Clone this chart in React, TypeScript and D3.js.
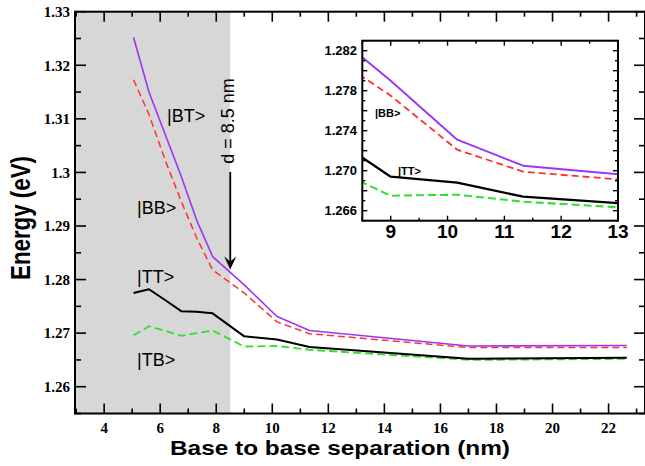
import React from "react";
import * as d3 from "d3";

// Sampled base-to-base separations (nm)
const separation = [5.05, 5.6, 6.2, 6.75, 7.3, 7.87, 9.0, 10.17, 11.33, 17.0, 22.65];

// Exciton state energies (eV) at each separation
const energyBT = [1.3252, 1.315, 1.3068, 1.2993, 1.2911, 1.2843, 1.279, 1.2731, 1.2705, 1.2676, 1.2677];
const energyBB = [1.3173, 1.3108, 1.302, 1.2946, 1.2878, 1.2818, 1.2775, 1.2721, 1.2699, 1.2673, 1.2673];
const energyTT = [1.2775, 1.2782, 1.2761, 1.2741, 1.274, 1.2737, 1.2694, 1.2688, 1.2674, 1.2652, 1.2654];
const energyTB = [1.2696, 1.2713, 1.2704, 1.2695, 1.27, 1.2705, 1.2675, 1.2676, 1.2669, 1.265, 1.2652];

const stateNames = ["|BT>", "|BB>", "|TT>", "|TB>"];

const xMajorTicks = [4, 6, 8, 10, 12, 14, 16, 18, 20, 22];
const xMinorTicks = [3, 5, 7, 9, 11, 13, 15, 17, 19, 21, 23];
const yMajorTicks = [1.26, 1.27, 1.28, 1.29, 1.3, 1.31, 1.32, 1.33];
const yMinorTicks = [1.255, 1.265, 1.275, 1.285, 1.295, 1.305, 1.315, 1.325];

const insetXMajor = [9, 10, 11, 12, 13];
const insetXMinor = [8.5, 9.5, 10.5, 11.5, 12.5];
const insetYLabels = [1.266, 1.27, 1.274, 1.278, 1.282];
const insetYTicks = d3.range(1265, 1284).map((v) => v / 1000);

const cutoff = 8.5;

const W = 645;
const H = 466;

const x = d3.scaleLinear().domain([2.96, 23.3]).range([75, 645]);
const y = d3.scaleLinear().domain([1.255, 1.33]).range([413.5, 11.7]);

const ix = d3.scaleLinear().domain([8.5, 13]).range([362.3, 618]);
const iy = d3.scaleLinear().domain([1.265, 1.283]).range([220.7, 40.7]);

type Series = { values: number[]; color: string; width: number; dash?: string };

const series: Series[] = [
  { values: energyTB, color: "#2fe02f", width: 1.8, dash: "8,4" },
  { values: energyTT, color: "#000000", width: 2 },
  { values: energyBB, color: "#ff3030", width: 1.5, dash: "7,4" },
  { values: energyBT, color: "#9b35f5", width: 1.6 },
];

const sans = "'Liberation Sans', Arial, sans-serif";
const serif = "'Liberation Serif', 'Times New Roman', serif";

export default function App() {
  const mainLine = d3
    .line<number>()
    .x((_, i) => x(separation[i]))
    .y((d) => y(d));
  const insetLine = d3
    .line<number>()
    .x((_, i) => ix(separation[i]))
    .y((d) => iy(d));

  const x0 = x.range()[0];
  const x1 = x.range()[1];
  const y0 = y.range()[0];
  const y1 = y.range()[1];

  const arrowTip = y(1.2817) - 1;

  return (
    <svg
      width={W}
      height={H}
      style={{ position: "absolute", left: 0, top: 0, background: "#fff" }}
      fontFamily={sans}
    >
      <defs>
        <clipPath id="main-clip">
          <rect x={x0} y={y1} width={x1 - x0} height={y0 - y1} />
        </clipPath>
        <clipPath id="inset-clip">
          <rect x={ix.range()[0]} y={iy.range()[1]} width={ix.range()[1] - ix.range()[0]} height={iy.range()[0] - iy.range()[1]} />
        </clipPath>
      </defs>

      {/* short-separation region */}
      <rect x={x0} y={y1} width={x(cutoff) - x0} height={y0 - y1} fill="#d7d7d7" />

      <g clipPath="url(#main-clip)">
        {series.map((s, i) => (
          <path
            key={i}
            d={mainLine(s.values) || ""}
            fill="none"
            stroke={s.color}
            strokeWidth={s.width}
            strokeDasharray={s.dash}
            strokeLinejoin="round"
          />
        ))}
      </g>

      {/* main ticks */}
      <g stroke="#000" strokeWidth={1.6}>
        {xMajorTicks.map((t) => (
          <g key={"xm" + t}>
            <line x1={x(t)} x2={x(t)} y1={y0} y2={y0 - 10} />
            <line x1={x(t)} x2={x(t)} y1={y1} y2={y1 + 10} />
          </g>
        ))}
        {xMinorTicks.map((t) => (
          <g key={"xn" + t}>
            <line x1={x(t)} x2={x(t)} y1={y0} y2={y0 - 5} />
            <line x1={x(t)} x2={x(t)} y1={y1} y2={y1 + 5} />
          </g>
        ))}
        {yMajorTicks.map((t) => (
          <g key={"ym" + t}>
            <line x1={x0} x2={x0 + 11} y1={y(t)} y2={y(t)} />
            <line x1={x1} x2={x1 - 11} y1={y(t)} y2={y(t)} />
          </g>
        ))}
        {yMinorTicks.map((t) => (
          <g key={"yn" + t}>
            <line x1={x0} x2={x0 + 6} y1={y(t)} y2={y(t)} />
            <line x1={x1} x2={x1 - 6} y1={y(t)} y2={y(t)} />
          </g>
        ))}
      </g>
      <rect x={x0} y={y1} width={x1 - x0} height={y0 - y1} fill="none" stroke="#000" strokeWidth={2} />

      {/* main tick labels */}
      <g fontFamily={serif} fontWeight="bold" fontSize={15} fill="#000">
        {xMajorTicks.map((t) => (
          <text key={"xl" + t} x={x(t)} y={433} textAnchor="middle">
            {t}
          </text>
        ))}
        {yMajorTicks.map((t) => (
          <text key={"yl" + t} x={70} y={y(t)} dy="0.35em" textAnchor="end">
            {String(+t.toFixed(2))}
          </text>
        ))}
      </g>

      {/* axis titles */}
      <text x={340} y={455} textAnchor="middle" fontSize={21} fontWeight="bold" textLength={340} lengthAdjust="spacingAndGlyphs">
        Base to base separation (nm)
      </text>
      <text
        transform="translate(30,218) rotate(-90)"
        textAnchor="middle"
        fontSize={27}
        fontWeight="bold"
        textLength={124}
        lengthAdjust="spacingAndGlyphs"
      >
        Energy (eV)
      </text>

      {/* state labels */}
      <g fontSize={18} fill="#000">
        <text x={167} y={122}>{stateNames[0]}</text>
        <text x={137} y={214}>{stateNames[1]}</text>
        <text x={137} y={283}>{stateNames[2]}</text>
        <text x={137} y={366}>{stateNames[3]}</text>
      </g>

      {/* cutoff marker */}
      <line x1={x(cutoff)} x2={x(cutoff)} y1={172} y2={arrowTip - 8} stroke="#000" strokeWidth={1.8} />
      <path
        d={`M${x(cutoff)},${arrowTip} L${x(cutoff) - 6},${arrowTip - 13} L${x(cutoff)},${arrowTip - 8} L${x(cutoff) + 6},${arrowTip - 13} Z`}
        fill="#000"
      />
      <text transform={`translate(${x(cutoff) + 4},121) rotate(-90)`} textAnchor="middle" fontSize={18}>
        d = 8.5 nm
      </text>

      {/* inset: zoom on 8.5-13 nm */}
      <rect x={ix.range()[0]} y={iy.range()[1]} width={ix.range()[1] - ix.range()[0]} height={iy.range()[0] - iy.range()[1]} fill="#fff" />
      <g clipPath="url(#inset-clip)">
        {series.map((s, i) => (
          <path
            key={i}
            d={insetLine(s.values) || ""}
            fill="none"
            stroke={s.color}
            strokeWidth={s.width + 0.3}
            strokeDasharray={s.dash}
            strokeLinejoin="round"
          />
        ))}
      </g>
      <g stroke="#000" strokeWidth={1.4}>
        {insetXMajor.map((t) => (
          <g key={"ixm" + t}>
            <line x1={ix(t)} x2={ix(t)} y1={iy.range()[0]} y2={iy.range()[0] - 5} />
            <line x1={ix(t)} x2={ix(t)} y1={iy.range()[1]} y2={iy.range()[1] + 5} />
          </g>
        ))}
        {insetXMinor.map((t) => (
          <g key={"ixn" + t}>
            <line x1={ix(t)} x2={ix(t)} y1={iy.range()[0]} y2={iy.range()[0] - 3} />
            <line x1={ix(t)} x2={ix(t)} y1={iy.range()[1]} y2={iy.range()[1] + 3} />
          </g>
        ))}
        {insetYTicks.map((t, i) => {
          const len = i % 2 === 1 ? 5 : 3;
          return (
            <g key={"iy" + i}>
              <line x1={ix.range()[0]} x2={ix.range()[0] + len} y1={iy(t)} y2={iy(t)} />
              <line x1={ix.range()[1]} x2={ix.range()[1] - len} y1={iy(t)} y2={iy(t)} />
            </g>
          );
        })}
      </g>
      <rect x={ix.range()[0]} y={iy.range()[1]} width={ix.range()[1] - ix.range()[0]} height={iy.range()[0] - iy.range()[1]} fill="none" stroke="#000" strokeWidth={2} />
      <g fontWeight="bold" fill="#000">
        {insetYLabels.map((t) => (
          <text key={"iyl" + t} x={357} y={iy(t)} dy="0.35em" textAnchor="end" fontSize={13}>
            {t.toFixed(3)}
          </text>
        ))}
        {insetXMajor.map((t) => (
          <text key={"ixl" + t} x={ix(t)} y={238} textAnchor="middle" fontSize={19}>
            {t}
          </text>
        ))}
        <text x={375} y={117} fontSize={11}>{stateNames[1]}</text>
        <text x={398} y={175} fontSize={11}>{stateNames[2]}</text>
      </g>
    </svg>
  );
}
